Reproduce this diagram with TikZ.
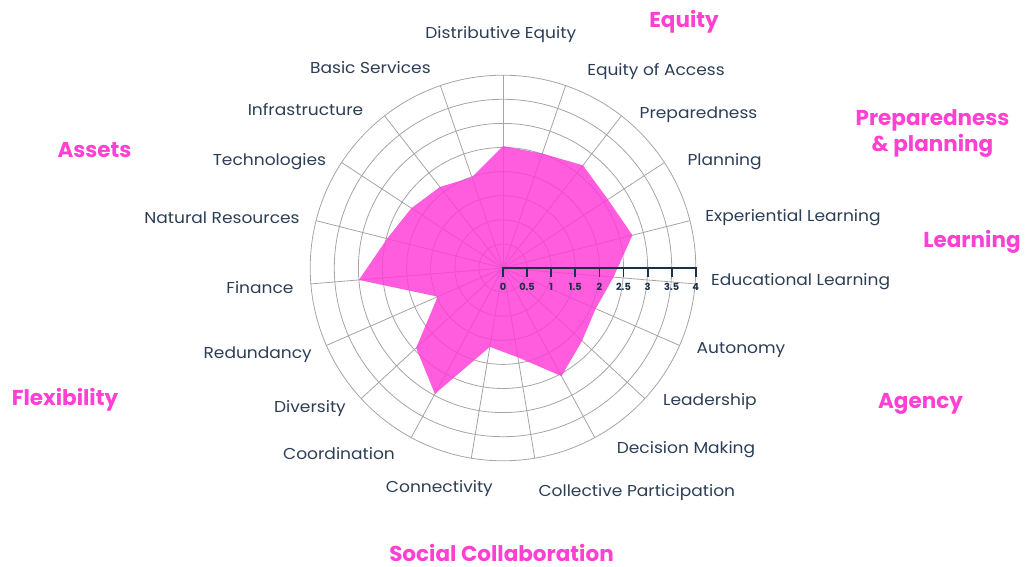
\documentclass[tikz,border=0pt]{standalone}
\usepackage{fontspec}
\setmainfont{Poppins}
\newfontfamily\labfont[FakeStretch=1.08]{Poppins}
\definecolor{navy}{RGB}{44,62,85}
\definecolor{pinkcat}{RGB}{255,64,210}
\definecolor{pinkfill}{RGB}{255,63,216}
\definecolor{gridc}{RGB}{165,165,165}
\definecolor{scalec}{RGB}{28,48,72}
\begin{document}
\begin{tikzpicture}[x=1pt,y=1pt,
  lab/.style={text=navy,font=\labfont\fontsize{15.8}{18}\selectfont,inner sep=0pt,anchor=base},
  cat/.style={text=pinkcat,font=\fontsize{21.5}{26}\selectfont\bfseries,inner sep=0pt,anchor=base,align=center},
  gridl/.style={draw=gridc,line width=0.8pt},
  ticklab/.style={text=scalec,font=\fontsize{9.8}{11}\selectfont\bfseries,inner sep=0pt,anchor=base}]
\useasboundingbox (0,0) rectangle (1025,567);
\coordinate (c) at (503,299);
% grid
\foreach \i in {1,...,8} \draw[gridl] (c) circle ({24.1*\i});
\foreach \k in {0,...,18} \draw[gridl] (c) -- ++({90-\k*360/19}:192.8);
% data
\foreach \v [count=\k from 0] in {2.53,2.51,2.7,2.6,2.77,2.3,2.1,2.23,2.55,1.88,1.66,2.97,2.45,1.48,3.0,2.48,2.27,2.13,1.99}
  \path (c) ++({90-\k*360/19}:{\v*48.2}) coordinate (p\k);
\fill[pinkfill,fill opacity=0.85] (p0) -- (p1) -- (p2) -- (p3) -- (p4) -- (p5) -- (p6) -- (p7) -- (p8) -- (p9) -- (p10) -- (p11) -- (p12) -- (p13) -- (p14) -- (p15) -- (p16) -- (p17) -- (p18) -- cycle;
% scale
\draw[scalec,line width=2pt] (c) -- ++(192.8,0) coordinate (s4);
\foreach \t [count=\i from 0] in {0,0.5,1,1.5,2,2.5,3,3.5,4} {
  \draw[scalec,line width=1.8pt] (c) ++({24.1*\i},0.9) -- ++(0,-9.5) coordinate (t\i);
  \node[ticklab] (tl\i) at ([yshift=-13.5pt]t\i) {\t};
}
% axis labels
\node[lab] (l0) at (500.8,528) {Distributive Equity};
\node[lab] (l1) at (656,491) {Equity of Access};
\node[lab] (l2) at (698.5,448.5) {Preparedness};
\node[lab] (l3) at (724.6,401) {Planning};
\node[lab] (l4) at (793,345.5) {Experiential Learning};
\node[lab] (l5) at (800.6,281) {Educational Learning};
\node[lab] (l6) at (741,213) {Autonomy};
\node[lab] (l7) at (710,161) {Leadership};
\node[lab] (l8) at (686,113) {Decision Making};
\node[lab] (l9) at (636.8,70) {Collective Participation};
\node[lab] (l10) at (439.4,74.5) {Connectivity};
\node[lab] (l11) at (339,107) {Coordination};
\node[lab] (l12) at (310,154) {Diversity};
\node[lab] (l13) at (257.7,208.5) {Redundancy};
\node[lab] (l14) at (260,273) {Finance};
\node[lab] (l15) at (222,343) {Natural Resources};
\node[lab] (l16) at (269.4,401.5) {Technologies};
\node[lab] (l17) at (305.5,451.5) {Infrastructure};
\node[lab] (l18) at (370.4,493) {Basic Services};
% categories
\node[cat] (cEq) at (684,539) {Equity};
\node[cat,anchor=center] (cPrep) at (932.5,433) {Preparedness\\\& planning};
\node[cat] (cAs) at (94.5,409) {Assets};
\node[cat] (cLe) at (972,319) {Learning};
\node[cat] (cFl) at (65,161) {Flexibility};
\node[cat] (cAg) at (920.5,158) {Agency};
\node[cat] (cSC) at (501.5,5.8) {Social Collaboration};
\end{tikzpicture}
\end{document}
